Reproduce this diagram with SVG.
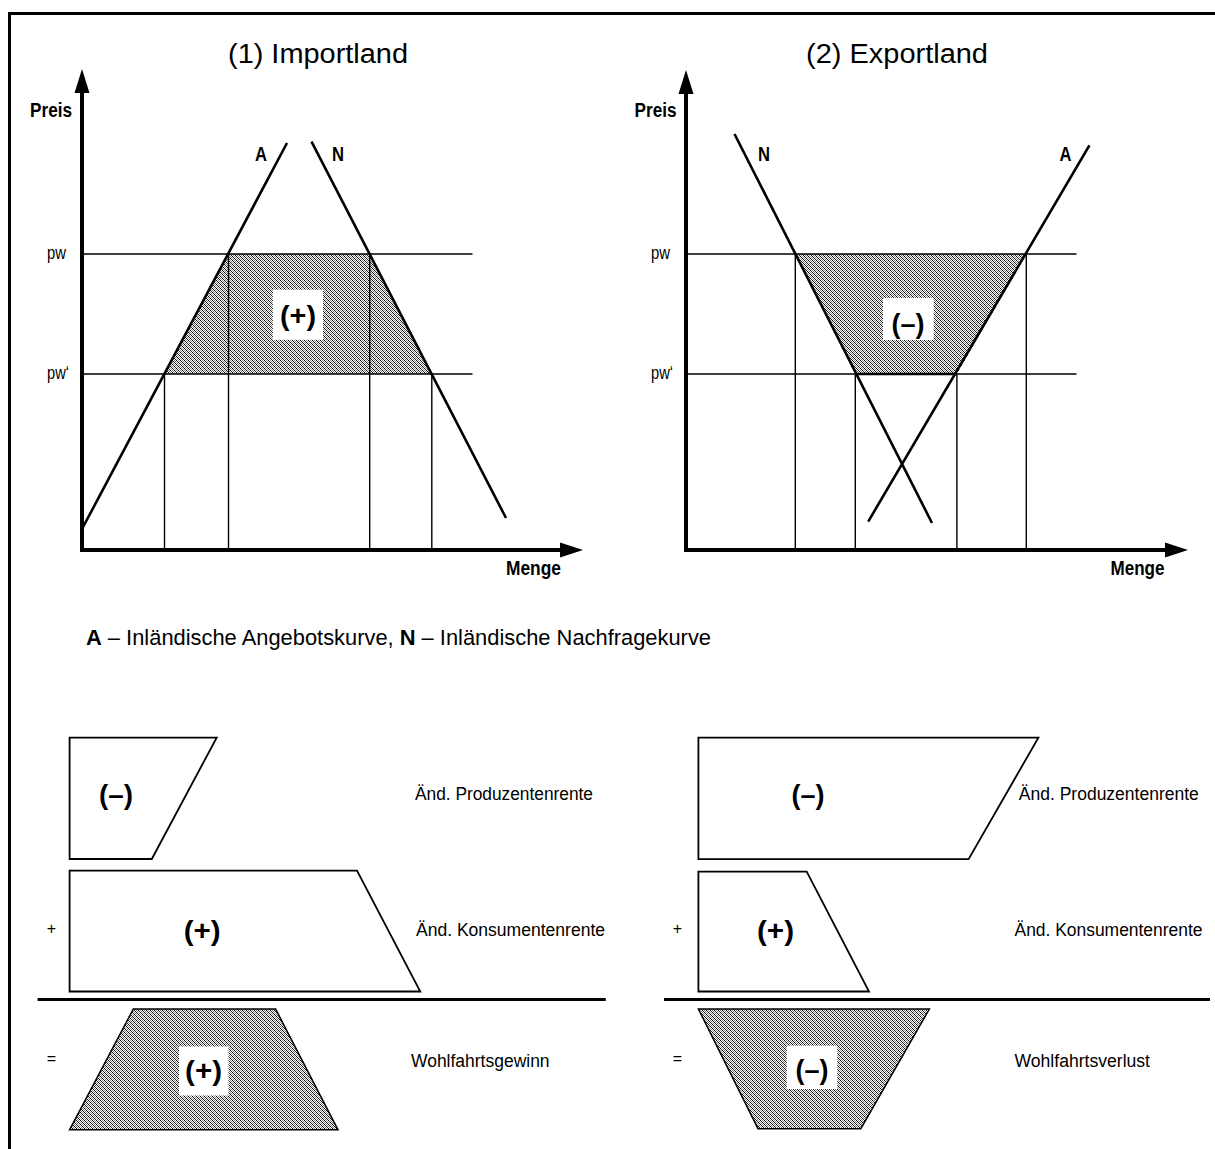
<svg xmlns="http://www.w3.org/2000/svg" width="1215" height="1149" viewBox="0 0 1215 1149">
<style>
  text { font-family: "Liberation Sans", Arial, sans-serif; fill: #000; }
  .title { font-size: 27px; }
  .axl { font-size: 19.5px; font-weight: bold; }
  .pl { font-size: 19px; }
  .sign { font-size: 27px; font-weight: bold; text-anchor: middle; }
  .op { font-size: 16px; text-anchor: middle; }
  .lbl { font-size: 18px; }
  .leg { font-size: 22px; }
  .axis { stroke: #000; stroke-width: 4; fill: none; }
  .curve { stroke: #000; stroke-width: 2.6; fill: none; }
  .grid { stroke: #000; stroke-width: 1.4; fill: none; }
  .shape { stroke: #000; stroke-width: 1.8; fill: #fff; stroke-linejoin: miter; }
  .hshape { stroke: #000; stroke-width: 1.5; fill: url(#hatch); }
  .hfill { fill: url(#hatch); stroke: none; }
  .box { fill: #fff; stroke: none; }
</style>
<defs>
  <pattern id="hatch" width="4" height="4" patternUnits="userSpaceOnUse" shape-rendering="crispEdges">
    <rect width="4" height="4" fill="#fff"/>
    <rect x="0" y="0" width="1" height="1" fill="#000"/>
    <rect x="1" y="1" width="1" height="1" fill="#222"/>
    <rect x="2" y="2" width="1" height="1" fill="#000"/>
    <rect x="3" y="3" width="1" height="1" fill="#222"/>
    <rect x="2" y="0" width="1" height="1" fill="#888"/>
    <rect x="3" y="1" width="1" height="1" fill="#777"/>
    <rect x="0" y="2" width="1" height="1" fill="#888"/>
    <rect x="1" y="3" width="1" height="1" fill="#777"/>
  </pattern>
</defs>

<rect width="1215" height="1149" fill="#fff"/>
<path d="M9.5 1149 V13.5 H1215" fill="none" stroke="#000" stroke-width="3"/>

<!-- Chart 1: Importland -->
<g id="chart-import">
  <text class="title" x="228" y="63" textLength="180" lengthAdjust="spacingAndGlyphs">(1) Importland</text>
  <polygon class="hfill" points="228.5,254 369.7,254 431.8,374 164.5,374"/>
  <g class="grid">
    <line x1="82" y1="254" x2="472.5" y2="254"/>
    <line x1="82" y1="374" x2="472.5" y2="374"/>
    <line x1="164.5" y1="374" x2="164.5" y2="550"/>
    <line x1="228.5" y1="254" x2="228.5" y2="550"/>
    <line x1="369.7" y1="254" x2="369.7" y2="550"/>
    <line x1="431.8" y1="374" x2="431.8" y2="550"/>
  </g>
  <g class="curve">
    <line x1="82" y1="529" x2="287" y2="143"/>
    <line x1="311.5" y1="141.6" x2="506" y2="518"/>
  </g>
  <rect class="box" x="272.8" y="289.7" width="50.2" height="50.1"/>
  <text class="sign" x="298" y="324.5" textLength="36" lengthAdjust="spacingAndGlyphs">(+)</text>
  <g class="axis">
    <line x1="82" y1="90" x2="82" y2="552"/>
    <line x1="80" y1="550" x2="563" y2="550"/>
  </g>
  <polygon points="82,69 74.5,93 89.5,93" fill="#000"/>
  <polygon points="583,550 560,542.5 560,557.5" fill="#000"/>
  <text class="axl" x="30" y="116.5" textLength="42" lengthAdjust="spacingAndGlyphs">Preis</text>
  <text class="axl" x="506" y="575" textLength="55" lengthAdjust="spacingAndGlyphs">Menge</text>
  <text class="axl" x="255" y="161" textLength="12" lengthAdjust="spacingAndGlyphs">A</text>
  <text class="axl" x="332" y="161" textLength="12" lengthAdjust="spacingAndGlyphs">N</text>
  <text class="pl" x="47" y="259" textLength="19" lengthAdjust="spacingAndGlyphs">pw</text>
  <text class="pl" x="47" y="379" textLength="22" lengthAdjust="spacingAndGlyphs">pw‘</text>
</g>

<!-- Chart 2: Exportland -->
<g id="chart-export">
  <text class="title" x="806" y="63" textLength="182" lengthAdjust="spacingAndGlyphs">(2) Exportland</text>
  <polygon class="hfill" points="795.3,254 1026.3,254 956.9,374 855.3,374"/>
  <g class="grid">
    <line x1="686" y1="254" x2="1076.5" y2="254"/>
    <line x1="686" y1="374" x2="1076.5" y2="374"/>
    <line x1="795.3" y1="254" x2="795.3" y2="550"/>
    <line x1="855.3" y1="374" x2="855.3" y2="550"/>
    <line x1="956.9" y1="374" x2="956.9" y2="550"/>
    <line x1="1026.3" y1="254" x2="1026.3" y2="550"/>
  </g>
  <line x1="855.3" y1="374" x2="956.9" y2="374" stroke="#000" stroke-width="2.4"/>
  <g class="curve">
    <line x1="734.5" y1="134" x2="932" y2="523"/>
    <line x1="1089.4" y1="145.4" x2="868.2" y2="521.6"/>
  </g>
  <rect class="box" x="883" y="298" width="50.7" height="42"/>
  <text class="sign" x="908" y="333" textLength="33" lengthAdjust="spacingAndGlyphs">(–)</text>
  <g class="axis">
    <line x1="686" y1="91" x2="686" y2="552"/>
    <line x1="684" y1="550" x2="1168" y2="550"/>
  </g>
  <polygon points="686,70 678.5,94 693.5,94" fill="#000"/>
  <polygon points="1188,550 1165,542.5 1165,557.5" fill="#000"/>
  <text class="axl" x="634.5" y="116.5" textLength="42" lengthAdjust="spacingAndGlyphs">Preis</text>
  <text class="axl" x="1110.5" y="575" textLength="54" lengthAdjust="spacingAndGlyphs">Menge</text>
  <text class="axl" x="758" y="161" textLength="12" lengthAdjust="spacingAndGlyphs">N</text>
  <text class="axl" x="1059.5" y="161" textLength="12" lengthAdjust="spacingAndGlyphs">A</text>
  <text class="pl" x="651" y="259" textLength="19" lengthAdjust="spacingAndGlyphs">pw</text>
  <text class="pl" x="651" y="379" textLength="22" lengthAdjust="spacingAndGlyphs">pw‘</text>
</g>

<!-- Legend -->
<g id="legend">
  <text class="leg" x="86" y="645" textLength="625" lengthAdjust="spacingAndGlyphs"><tspan font-weight="bold">A</tspan> – Inländische Angebotskurve, <tspan font-weight="bold">N</tspan> – Inländische Nachfragekurve</text>
</g>

<!-- Bottom left: welfare gain -->
<g id="sum-import">
  <g id="import-producer">
    <polygon class="shape" points="69.6,737.6 216.7,737.6 151.8,859 69.6,859"/>
    <text class="sign" x="116" y="804" textLength="34" lengthAdjust="spacingAndGlyphs">(–)</text>
    <text class="lbl" x="415" y="799.5" textLength="178" lengthAdjust="spacingAndGlyphs">Änd. Produzentenrente</text>
  </g>
  <g id="import-consumer">
    <text class="op" x="51.4" y="934">+</text>
    <polygon class="shape" points="69.6,870.7 357,870.7 420.3,991.5 69.6,991.5"/>
    <text class="sign" x="202.2" y="939.6" textLength="37" lengthAdjust="spacingAndGlyphs">(+)</text>
    <text class="lbl" x="416" y="936" textLength="189" lengthAdjust="spacingAndGlyphs">Änd. Konsumentenrente</text>
  </g>
  <line x1="37.6" y1="999.5" x2="605.8" y2="999.5" stroke="#000" stroke-width="3.2"/>
  <g id="import-welfare">
    <text class="op" x="51.4" y="1064">=</text>
    <polygon class="hshape" points="133.3,1009 275.6,1009 338,1129.8 69.6,1129.8"/>
    <rect class="box" x="179" y="1046.4" width="49.5" height="49.1"/>
    <text class="sign" x="203.6" y="1079.5" textLength="37" lengthAdjust="spacingAndGlyphs">(+)</text>
    <text class="lbl" x="411" y="1067" textLength="138.6" lengthAdjust="spacingAndGlyphs">Wohlfahrtsgewinn</text>
  </g>
</g>

<!-- Bottom right: welfare loss -->
<g id="sum-export">
  <g id="export-producer">
    <polygon class="shape" points="698.4,737.6 1038.4,737.6 968.6,859.1 698.4,859.1"/>
    <text class="sign" x="808" y="804" textLength="33" lengthAdjust="spacingAndGlyphs">(–)</text>
    <text class="lbl" x="1018.8" y="799.5" textLength="180" lengthAdjust="spacingAndGlyphs">Änd. Produzentenrente</text>
  </g>
  <g id="export-consumer">
    <text class="op" x="677.3" y="934">+</text>
    <polygon class="shape" points="698.4,871.7 806.7,871.7 869,991.5 698.4,991.5"/>
    <text class="sign" x="775.5" y="939.6" textLength="37" lengthAdjust="spacingAndGlyphs">(+)</text>
    <text class="lbl" x="1014.5" y="936" textLength="188" lengthAdjust="spacingAndGlyphs">Änd. Konsumentenrente</text>
  </g>
  <line x1="664" y1="999.5" x2="1210" y2="999.5" stroke="#000" stroke-width="3.2"/>
  <g id="export-welfare">
    <text class="op" x="677.3" y="1064">=</text>
    <polygon class="hshape" points="698.4,1009 929.4,1009 860.8,1128.7 758,1128.7"/>
    <rect class="box" x="786.7" y="1045.7" width="50.6" height="43.3"/>
    <text class="sign" x="812" y="1078.6" textLength="33" lengthAdjust="spacingAndGlyphs">(–)</text>
    <text class="lbl" x="1014.5" y="1067" textLength="135.5" lengthAdjust="spacingAndGlyphs">Wohlfahrtsverlust</text>
  </g>
</g>
</svg>
